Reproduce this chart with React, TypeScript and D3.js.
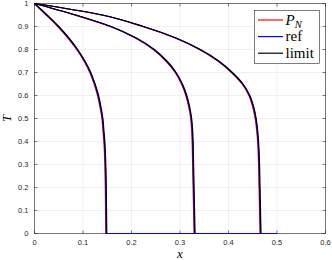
import { useEffect, useRef } from "react";
import * as d3 from "d3";

// T levels shared by every curve (top to bottom)
const T_LEVELS = [1, 0.95, 0.9, 0.85, 0.8, 0.75, 0.7, 0.65, 0.6, 0.55, 0.5, 0.45, 0.4, 0.3, 0.2, 0];

// x positions of the three fronts, per series
const PN_A = [0, 0.024, 0.048, 0.069, 0.087, 0.102, 0.114, 0.123, 0.130, 0.135, 0.139, 0.141, 0.143, 0.145, 0.146, 0.147];
const PN_B = [0, 0.083, 0.156, 0.208, 0.245, 0.271, 0.290, 0.303, 0.312, 0.318, 0.322, 0.324, 0.325, 0.326, 0.327, 0.329];
const PN_C = [0, 0.138, 0.223, 0.290, 0.340, 0.378, 0.406, 0.428, 0.442, 0.450, 0.455, 0.458, 0.460, 0.462, 0.463, 0.465];

const REF_A = [0, 0.025, 0.049, 0.070, 0.088, 0.103, 0.115, 0.124, 0.131, 0.136, 0.140, 0.142, 0.144, 0.146, 0.147, 0.148];
const REF_B = [0, 0.084, 0.157, 0.209, 0.246, 0.272, 0.291, 0.304, 0.313, 0.319, 0.323, 0.325, 0.326, 0.327, 0.328, 0.330];
const REF_C = [0, 0.139, 0.224, 0.291, 0.341, 0.379, 0.407, 0.429, 0.443, 0.451, 0.456, 0.459, 0.461, 0.463, 0.464, 0.466];

const LIM_A = [0, 0.026, 0.050, 0.071, 0.089, 0.104, 0.116, 0.125, 0.132, 0.137, 0.141, 0.143, 0.145, 0.147, 0.148, 0.149];
const LIM_B = [0, 0.085, 0.158, 0.210, 0.247, 0.273, 0.292, 0.305, 0.314, 0.320, 0.324, 0.326, 0.327, 0.328, 0.329, 0.331];
const LIM_C = [0, 0.140, 0.225, 0.292, 0.342, 0.380, 0.408, 0.430, 0.444, 0.452, 0.457, 0.460, 0.462, 0.464, 0.465, 0.467];

// where the zero plateau ends (null = no plateau)
const TAIL_END = [0.5, 0.5, null];

const SERIES = ["P_N", "ref", "limit"];
const COLORS = ["#ff0000", "#0000ff", "#000000"];
const SERIES_X = [
  [PN_A, PN_B, PN_C],
  [REF_A, REF_B, REF_C],
  [LIM_A, LIM_B, LIM_C],
];

const X_TICKS = [0, 0.1, 0.2, 0.3, 0.4, 0.5, 0.6];
const Y_TICKS = [0, 0.1, 0.2, 0.3, 0.4, 0.5, 0.6, 0.7, 0.8, 0.9, 1];

export default function App() {
  const ref = useRef<SVGSVGElement>(null);

  useEffect(() => {
    if (!ref.current) return;
    const svg = d3.select(ref.current);
    svg.selectAll("*").remove();

    const W = 332;
    const H = 260;
    const L = 34.5, R = 325.5, T = 3.5, B = 233.5;
    const axisColor = "#262626";
    const tickFont = "'Liberation Sans', Arial, sans-serif";
    const texFont = "'Liberation Serif', 'Times New Roman', serif";

    const x = d3.scaleLinear().domain([0, 0.6]).range([L, R]);
    const y = d3.scaleLinear().domain([0, 1]).range([B, T]);

    svg.append("rect").attr("width", W).attr("height", H).attr("fill", "#fff");

    // grid
    const grid = svg.append("g").attr("stroke", "#e6e6e6").attr("stroke-width", 0.6);
    X_TICKS.forEach((t) => {
      grid.append("line").attr("x1", x(t)).attr("x2", x(t)).attr("y1", T).attr("y2", B);
    });
    Y_TICKS.forEach((t) => {
      grid.append("line").attr("x1", L).attr("x2", R).attr("y1", y(t)).attr("y2", y(t));
    });

    // axes box
    svg
      .append("rect")
      .attr("x", L)
      .attr("y", T)
      .attr("width", R - L)
      .attr("height", B - T)
      .attr("fill", "none")
      .attr("stroke", axisColor)
      .attr("stroke-width", 0.6);

    // ticks
    const ticks = svg.append("g").attr("stroke", axisColor).attr("stroke-width", 0.6);
    X_TICKS.forEach((t) => {
      ticks.append("line").attr("x1", x(t)).attr("x2", x(t)).attr("y1", B).attr("y2", B - 3);
      ticks.append("line").attr("x1", x(t)).attr("x2", x(t)).attr("y1", T).attr("y2", T + 3);
    });
    Y_TICKS.forEach((t) => {
      ticks.append("line").attr("x1", L).attr("x2", L + 3).attr("y1", y(t)).attr("y2", y(t));
      ticks.append("line").attr("x1", R).attr("x2", R - 3).attr("y1", y(t)).attr("y2", y(t));
    });

    // curves
    const line = d3
      .line<[number, number]>()
      .x((d) => x(d[0]))
      .y((d) => y(d[1]))
      .curve(d3.curveMonotoneY);

    SERIES_X.forEach((fronts, si) => {
      fronts.forEach((xs) => {
        const pts: [number, number][] = xs.map((v, j) => [v, T_LEVELS[j]]);
        let d = line(pts) ?? "";
        const end = TAIL_END[si];
        if (end !== null) d += `L${x(end)},${y(0)}`;
        svg
          .append("path")
          .attr("d", d)
          .attr("fill", "none")
          .attr("stroke", COLORS[si])
          .attr("stroke-width", 1.2);
      });
    });

    // tick labels
    X_TICKS.forEach((t) => {
      svg
        .append("text")
        .attr("x", x(t))
        .attr("y", B + 11.5)
        .attr("text-anchor", "middle")
        .attr("font-family", tickFont)
        .attr("font-size", 7.5)
        .attr("fill", axisColor)
        .text(String(t));
    });
    Y_TICKS.forEach((t) => {
      svg
        .append("text")
        .attr("x", L - 6)
        .attr("y", y(t))
        .attr("dy", "0.35em")
        .attr("text-anchor", "end")
        .attr("font-family", tickFont)
        .attr("font-size", 7.5)
        .attr("fill", axisColor)
        .text(String(t));
    });

    // axis labels
    svg
      .append("text")
      .attr("x", (L + R) / 2)
      .attr("y", 258)
      .attr("text-anchor", "middle")
      .attr("font-family", texFont)
      .attr("font-style", "italic")
      .attr("font-size", 13)
      .attr("fill", "#000")
      .text("x");
    svg
      .append("text")
      .attr("transform", `translate(11,${(T + B) / 2}) rotate(-90)`)
      .attr("text-anchor", "middle")
      .attr("font-family", texFont)
      .attr("font-style", "italic")
      .attr("font-size", 12)
      .attr("fill", "#000")
      .text("T");

    // legend
    const leg = svg.append("g");
    leg
      .append("rect")
      .attr("x", 254.5)
      .attr("y", 10.5)
      .attr("width", 65)
      .attr("height", 53)
      .attr("fill", "#fff")
      .attr("stroke", axisColor)
      .attr("stroke-width", 0.6);
    SERIES.forEach((name, i) => {
      const cy = 20 + i * 16.6;
      leg
        .append("line")
        .attr("x1", 258)
        .attr("x2", 283)
        .attr("y1", cy)
        .attr("y2", cy)
        .attr("stroke", COLORS[i])
        .attr("stroke-width", 1.2);
      const txt = leg
        .append("text")
        .attr("x", 285.5)
        .attr("y", cy + 4.5)
        .attr("font-family", texFont)
        .attr("font-size", 15)
        .attr("fill", "#000");
      if (name === "P_N") {
        txt.append("tspan").attr("font-style", "italic").text("P");
        txt
          .append("tspan")
          .attr("font-style", "italic")
          .attr("font-size", 10.5)
          .attr("dy", 3)
          .text("N");
      } else {
        txt.text(name);
      }
    });
  }, []);

  return (
    <svg
      ref={ref}
      width={332}
      height={260}
      style={{ position: "absolute", left: 0, top: 0 }}
    />
  );
}
